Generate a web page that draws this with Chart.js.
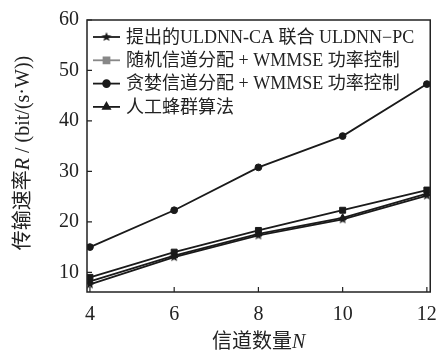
<!DOCTYPE html>
<html lang="zh-CN">
<head>
  <meta charset="UTF-8" />
  <title>传输速率与信道数量</title>
  <script src="https://cdn.jsdelivr.net/npm/chart.js"></script>
  <style>
    body { margin: 0; background: #fff; }
    .chart-container { position: relative; width: 448px; height: 358px; }
  </style>
</head>
<body>
  <div class="chart-container">
    <canvas id="chartTaxa"></canvas>
  </div>

  <script>
    // dados
    const canais = [4, 6, 8, 10, 12];
    const uldnn = [7.6, 13.0, 17.3, 20.5, 25.2];
    const aleatorio = [9.0, 14.0, 18.3, 22.3, 26.3];
    const guloso = [15.0, 22.3, 30.8, 37.0, 47.3];
    const abelhas = [8.2, 13.3, 17.6, 20.8, 25.6];
    const ticksY = [10, 20, 30, 40, 50, 60];
    const nomes = [
      '提出的ULDNN-CA 联合 ULDNN−PC',
      '随机信道分配 + WMMSE 功率控制',
      '贪婪信道分配 + WMMSE 功率控制',
      '人工蜂群算法'
    ];

    const serif = '"Liberation Serif", "Noto Sans CJK SC", serif';
    const cinza = '#888';
    const preto = '#1a1a1a';

    // estrela cheia de 5 pontas
    function criarEstrela(r) {
      const c = document.createElement('canvas');
      c.width = c.height = r * 2 + 2;
      const ctx = c.getContext('2d');
      ctx.fillStyle = preto;
      ctx.beginPath();
      for (let i = 0; i < 10; i++) {
        const rr = i % 2 === 0 ? r : r * 0.45;
        const a = -Math.PI / 2 + i * Math.PI / 5;
        const px = r + 1 + rr * Math.cos(a);
        const py = r + 1 + rr * Math.sin(a);
        if (i === 0) ctx.moveTo(px, py); else ctx.lineTo(px, py);
      }
      ctx.closePath();
      ctx.fill();
      return c;
    }
    const estrela = criarEstrela(5);

    const pares = arr => canais.map((x, i) => ({ x: x, y: arr[i] }));

    const datasets = [
      { label: nomes[0], data: pares(uldnn), pointStyle: estrela, pointRadius: 5, corLegenda: preto },
      { label: nomes[1], data: pares(aleatorio), pointStyle: 'rect', pointRadius: 4.2, corLegenda: cinza },
      { label: nomes[2], data: pares(guloso), pointStyle: 'circle', pointRadius: 3.4, corLegenda: preto },
      { label: nomes[3], data: pares(abelhas), pointStyle: 'triangle', pointRadius: 4, corLegenda: preto }
    ].map(d => Object.assign({
      borderColor: preto,
      backgroundColor: preto,
      pointBackgroundColor: preto,
      pointBorderColor: preto,
      borderWidth: 1.8,
      pointBorderWidth: 1,
      tension: 0
    }, d));

    function textoMisto(ctx, partes, cx, cy) {
      let total = 0;
      partes.forEach(p => { ctx.font = p.font; total += ctx.measureText(p.t).width; });
      let x = cx - total / 2;
      ctx.textAlign = 'left';
      ctx.textBaseline = 'middle';
      partes.forEach(p => {
        ctx.font = p.font;
        ctx.fillText(p.t, x, cy);
        x += ctx.measureText(p.t).width;
      });
    }

    const moldura = {
      id: 'moldura',
      afterDraw(chart) {
        const { ctx, chartArea: a, scales } = chart;
        ctx.save();
        ctx.strokeStyle = '#222';
        ctx.lineWidth = 1.5;
        ctx.strokeRect(a.left, a.top, a.right - a.left, a.bottom - a.top);

        // marcas para dentro
        ctx.lineWidth = 1.2;
        ctx.beginPath();
        canais.forEach(v => {
          const px = scales.x.getPixelForValue(v);
          ctx.moveTo(px, a.bottom);
          ctx.lineTo(px, a.bottom - 5);
        });
        ticksY.forEach(v => {
          const py = scales.y.getPixelForValue(v);
          ctx.moveTo(a.left, py);
          ctx.lineTo(a.left + 5, py);
        });
        ctx.stroke();

        // títulos dos eixos
        ctx.fillStyle = '#222';
        const normal = '20px ' + serif;
        const italico = 'italic 20px ' + serif;
        textoMisto(ctx, [
          { t: '信道数量', font: normal },
          { t: 'N', font: italico }
        ], (a.left + a.right) / 2, 343);

        ctx.save();
        ctx.translate(24, (a.top + a.bottom) / 2 - 3);
        ctx.rotate(-Math.PI / 2);
        textoMisto(ctx, [
          { t: '传输速率', font: normal },
          { t: 'R', font: italico },
          { t: ' / (bit/(s·W))', font: normal }
        ], 0, 0);
        ctx.restore();

        // legenda dentro da área
        const x0 = a.left + 6;
        const passo = 23.3;
        chart.data.datasets.forEach((d, i) => {
          const y = a.top + 17 + i * passo;
          ctx.strokeStyle = d.corLegenda;
          ctx.fillStyle = d.corLegenda;
          ctx.lineWidth = 1.8;
          ctx.beginPath();
          ctx.moveTo(x0, y);
          ctx.lineTo(x0 + 27, y);
          ctx.stroke();
          Chart.helpers.drawPoint(ctx, {
            pointStyle: d.pointStyle,
            radius: d.pointRadius,
            borderWidth: 1,
            rotation: 0
          }, x0 + 13.5, y);
          ctx.fillStyle = '#222';
          ctx.font = '18px ' + serif;
          ctx.textAlign = 'left';
          ctx.textBaseline = 'middle';
          ctx.fillText(d.label, x0 + 33, y + 1);
        });
        ctx.restore();
      }
    };

    new Chart(document.getElementById('chartTaxa'), {
      type: 'line',
      data: { datasets: datasets },
      options: {
        responsive: true,
        maintainAspectRatio: false,
        animation: false,
        layout: { padding: { top: 13, right: 13, left: 0, bottom: 0 } },
        plugins: { legend: { display: false }, tooltip: { enabled: false } },
        scales: {
          x: {
            type: 'linear',
            min: 3.93,
            max: 12.08,
            grid: { display: false, drawTicks: false },
            border: { display: false },
            afterBuildTicks: s => { s.ticks = canais.map(v => ({ value: v })); },
            afterFit: s => { s.height = 66; },
            ticks: { padding: 11, color: '#222', font: { family: serif, size: 20 } }
          },
          y: {
            type: 'linear',
            min: 6.1,
            max: 60,
            grid: { display: false, drawTicks: false },
            border: { display: false },
            afterBuildTicks: s => { s.ticks = ticksY.map(v => ({ value: v })); },
            afterFit: s => { s.width = 87; },
            ticks: { padding: 8, color: '#222', font: { family: serif, size: 20 } }
          }
        }
      },
      plugins: [moldura]
    });
  </script>
</body>
</html>
